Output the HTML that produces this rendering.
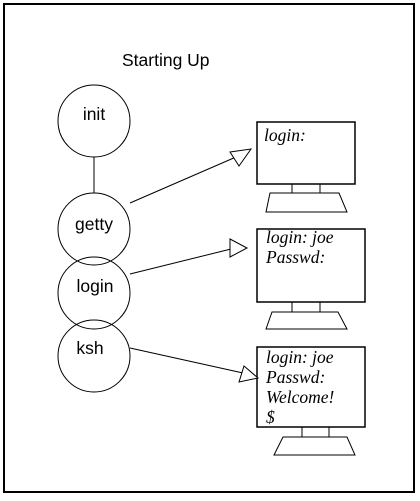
<!DOCTYPE html>
<html><head><style>body{margin:0;background:#fff}</style></head><body>
<svg width="420" height="496" viewBox="0 0 420 496" xmlns="http://www.w3.org/2000/svg">
<rect x="4" y="4" width="410" height="488" fill="none" stroke="#000" stroke-width="2"/>
<text x="122" y="66" font-family="Liberation Sans, sans-serif" font-size="17.5">Starting Up</text>
<g fill="none" stroke="#000" stroke-width="1">
<circle cx="94" cy="121" r="36"/>
<line x1="94" y1="157" x2="94" y2="193"/>
<circle cx="94" cy="229" r="36"/>
<circle cx="94" cy="293" r="36"/>
<circle cx="94" cy="356" r="36"/>
<rect x="257" y="122" width="98" height="62" stroke-width="1.5"/>
<rect x="292" y="184" width="28" height="9"/>
<polygon points="270,193 339,193 347,212 266,212"/>
<rect x="257" y="229" width="108" height="73" stroke-width="1.5"/>
<rect x="292" y="302" width="28" height="10"/>
<polygon points="272,312 338,312 347,329 266,329"/>
<rect x="257" y="347" width="108" height="80" stroke-width="1.5"/>
<rect x="302" y="427" width="27" height="10"/>
<polygon points="283,437 347,437 355,455 274,455"/>
<line x1="130" y1="203" x2="236" y2="157"/>
<polygon points="230,152 251,149 239,166" fill="#fff"/>
<line x1="130" y1="274" x2="231" y2="249"/>
<polygon points="230,239 247,248 230,257" fill="#fff"/>
<line x1="130" y1="348" x2="243" y2="373"/>
<polygon points="244,366 258,378 239,382" fill="#fff"/>
</g>
<g font-family="Liberation Sans, sans-serif" font-size="17.5" text-anchor="middle">
<text x="94" y="120">init</text>
<text x="94" y="230">getty</text>
<text x="95" y="292">login</text>
<text x="90" y="354">ksh</text>
</g>
<g font-family="Liberation Serif, serif" font-style="italic" font-size="17.5">
<text x="264" y="141">login:</text>
<text x="266" y="243">login: joe</text>
<text x="266" y="263">Passwd:</text>
<text x="266" y="363">login: joe</text>
<text x="266" y="383">Passwd:</text>
<text x="266" y="403">Welcome!</text>
<text x="266" y="423">$</text>
</g>
</svg>
</body></html>
